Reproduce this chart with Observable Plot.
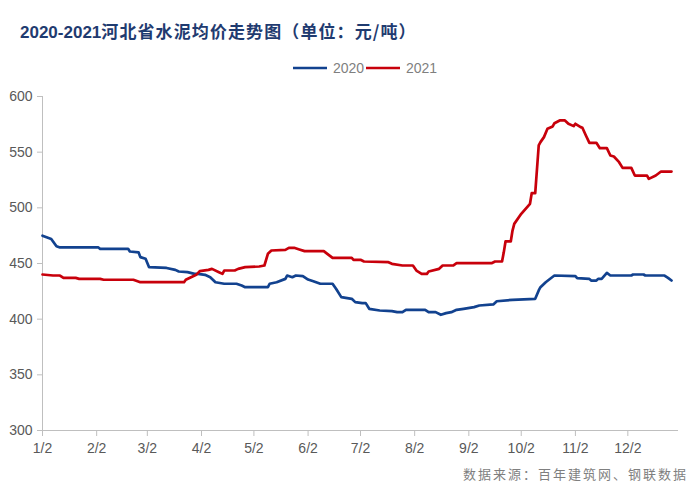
<!DOCTYPE html>
<html><head><meta charset="utf-8">
<script src="https://cdn.jsdelivr.net/npm/d3@7"></script>
<script src="https://cdn.jsdelivr.net/npm/@observablehq/plot@0.6"></script>
<style>
body{margin:0;background:#fff;}
#wrap{position:relative;width:692px;height:496px;overflow:hidden;font-family:"Liberation Sans",Arial,sans-serif;background:#fff;}
#title{position:absolute;left:20px;top:21px;line-height:20px;font-size:17px;font-weight:bold;color:#1f3b70;white-space:nowrap;}
#title .cn{font-family:"Noto Sans CJK SC",sans-serif;letter-spacing:1.1px;}
#legend{position:absolute;left:0;top:60px;width:692px;height:16px;}
#caption{position:absolute;right:4px;top:466px;line-height:16px;font-size:13px;color:#7f7f7f;font-family:"Noto Sans CJK SC",sans-serif;letter-spacing:2px;white-space:nowrap;}
#chart{position:absolute;left:0;top:0;}
</style>
</head><body>
<div id="wrap">
  <div id="chart"></div>
  <div id="title"><span>2020-2021</span><span class="cn">河北省水泥均价走势图（单位：元/吨）</span></div>
  <svg id="legend" width="692" height="16"></svg>
  <div id="caption">数据来源：百年建筑网、钢联数据</div>
</div>
<script>
// ---- data (month-day of each point, price in 元/吨) ----
const seriesNames = ["2020", "2021"];
const seriesColors = ["#12428f", "#c8000b"];

const dates2020 = ["01-02","01-07","01-10","01-12","02-03","02-04","02-20","02-21","02-26","02-27","03-01","03-03","03-13","03-18","03-20","03-25","03-29","03-31","04-04","04-07","04-10","04-15","04-22","04-25","04-27","05-10","05-11","05-15","05-20","05-21","05-24","05-26","05-30","06-02","06-05","06-09","06-16","06-18","06-21","06-27","06-29","07-03","07-05","07-07","07-13","07-20","07-23","07-26","07-28","08-08","08-10","08-14","08-17","08-20","08-23","08-26","08-30","09-05","09-08","09-16","09-18","09-27","10-10","10-12","10-13","10-16","10-18","10-21","11-02","11-03","11-10","11-11","11-14","11-15","11-17","11-20","11-22","12-04","12-05","12-11","12-12","12-23","12-25","12-27"];
const values2020 = [475,472,465.5,464.4,464.4,463.2,463.2,460.8,460,455.7,454.2,446.7,446,444.3,442.8,442.2,440.7,440.7,439.8,437.7,433.2,431.8,431.8,430.2,428.7,428.7,431.8,433.2,436.2,439.2,437.7,439.2,438.7,435.6,434.1,431.8,431.8,427.3,419.8,418.3,415.3,414.4,414.4,409.3,407.8,407.2,406.3,406.3,408.4,408.4,406.3,406.3,403.9,405.4,406.3,408.4,409.3,410.8,412.3,413.2,416.1,417.4,418.3,425.8,428.7,433.2,435.6,439.2,438.6,436.8,436.2,434.7,434.7,436.2,436.2,441.6,439.2,439.2,440.1,440.1,439.2,439.2,437.1,434.7];

const dates2021 = ["01-02","01-08","01-12","01-14","01-21","01-23","02-04","02-06","02-23","02-27","03-23","03-24","03-27","03-30","04-01","04-06","04-08","04-12","04-14","04-15","04-21","04-23","04-27","05-05","05-08","05-10","05-12","05-20","05-22","05-25","05-28","05-31","06-11","06-13","06-16","06-27","06-28","07-02","07-04","07-18","07-20","07-26","08-01","08-03","08-06","08-09","08-10","08-16","08-18","08-24","08-26","09-15","09-17","09-21","09-22","09-23","09-26","09-27","09-28","10-02","10-07","10-08","10-10","10-12","10-13","10-15","10-17","10-20","10-21","10-24","10-27","10-29","11-01","11-02","11-05","11-06","11-08","11-10","11-14","11-16","11-20","11-22","11-24","11-27","11-29","12-04","12-06","12-13","12-14","12-18","12-21","12-27"];
const values2021 = [440.1,439.2,439.2,437.1,437.1,436.2,436.2,435.4,435.4,433.2,433.2,435.4,437.7,439.8,443.2,444.3,445.2,442.2,440.7,443.7,443.7,445.2,446.7,447.3,448.2,458.7,461.7,462.3,464.1,464.1,462.6,461.1,461.1,458.7,455.1,455.1,453.3,453.3,451.8,451.2,449.7,448.2,448.2,443.7,440.7,440.7,442.8,445.2,448.2,448.2,450.3,450.3,451.8,451.8,460,469.8,469.8,479.6,485.6,494.6,503.6,513.2,513.2,556,559,563.5,571,573.1,576,578.5,578.5,575.5,573.4,575.5,572.5,571.9,565,558.4,558.4,553.6,553.6,547,546.1,541,535.9,535.9,529,529,526,529,532.6,532.6];

const yTicks = [300, 350, 400, 450, 500, 550, 600];
const xTickLabels = ["1/2","2/2","3/2","4/2","5/2","6/2","7/2","8/2","9/2","10/2","11/2","12/2"];

// ---- build ----
const parseMD = s => new Date("2020-" + s + "T00:00:00Z");
const rows = [
  ...dates2020.map((d, i) => ({date: parseMD(d), value: values2020[i], series: seriesNames[0]})),
  ...dates2021.map((d, i) => ({date: parseMD(d), value: values2021[i], series: seriesNames[1]}))
];
const xTicks = xTickLabels.map(l => { const [m, d] = l.split("/"); return new Date(Date.UTC(2020, +m - 1, +d)); });
const xStart = parseMD("01-02"), xEnd = parseMD("12-31");
const axisGray = "#bfbfbf";

const chart = Plot.plot({
  width: 692, height: 496,
  marginTop: 96, marginBottom: 66, marginLeft: 42, marginRight: 14,
  style: {fontFamily: "Liberation Sans, Arial, sans-serif", fontSize: "14px", color: "#595959", background: "transparent"},
  x: {type: "utc", domain: [xStart, xEnd]},
  y: {domain: [300, 600]},
  color: {domain: seriesNames, range: seriesColors},
  marks: [
    Plot.ruleX([xStart], {stroke: axisGray}),
    Plot.ruleY([300], {stroke: axisGray}),
    Plot.axisY({ticks: yTicks, tickSize: 5, tickPadding: 5, stroke: axisGray, fill: "#595959", label: null, tickFormat: d => String(d)}),
    Plot.axisX({ticks: xTicks, tickSize: 6, tickPadding: 7, stroke: axisGray, fill: "#595959", label: null,
      tickFormat: d => `${d.getUTCMonth() + 1}/${d.getUTCDate()}`}),
    Plot.line(rows.filter(r => r.series === seriesNames[0]), {x: "date", y: "value", stroke: "series", strokeWidth: 2.7}),
    Plot.line(rows.filter(r => r.series === seriesNames[1]), {x: "date", y: "value", stroke: "series", strokeWidth: 2.7})
  ]
});
document.getElementById("chart").appendChild(chart);

// legend
const lg = d3.select("#legend");
const legendItems = [{x: 293, name: seriesNames[0], color: seriesColors[0]}, {x: 366, name: seriesNames[1], color: seriesColors[1]}];
legendItems.forEach(it => {
  lg.append("line").attr("x1", it.x).attr("x2", it.x + 34).attr("y1", 8).attr("y2", 8)
    .attr("stroke", it.color).attr("stroke-width", 2.6);
  lg.append("text").attr("x", it.x + 40).attr("y", 13).text(it.name)
    .attr("fill", "#7f7f7f").attr("font-size", 14).attr("font-family", "Liberation Sans, Arial, sans-serif");
});
</script>
</body></html>
